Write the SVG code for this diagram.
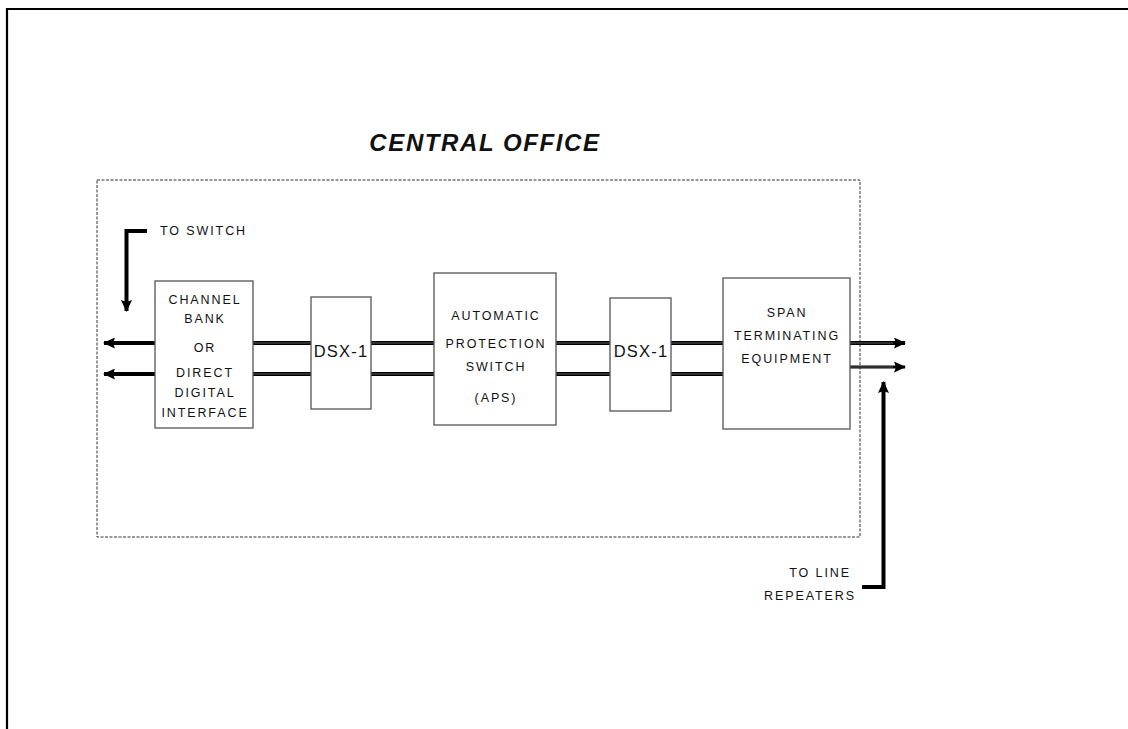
<svg xmlns="http://www.w3.org/2000/svg" width="1128" height="729" viewBox="0 0 1128 729">
<defs>
<style>
.box{fill:#fff;stroke:#555;stroke-width:1.3}
.t{font-family:"Liberation Sans",Arial,sans-serif;font-size:12.5px;letter-spacing:1.9px;fill:#111;text-anchor:middle}
.dsx{font-family:"Liberation Sans",Arial,sans-serif;font-size:16.5px;letter-spacing:1.2px;fill:#111;text-anchor:middle}
.dbl{stroke:#000;stroke-width:4;fill:none}
.dblc{stroke:#777;stroke-width:0.8;fill:none}
.thick{stroke:#000;stroke-width:4;fill:none}
</style>
<marker id="ah" viewBox="0 0 12 11" refX="11" refY="5.5" markerWidth="13" markerHeight="11" orient="auto" markerUnits="userSpaceOnUse">
<path d="M0,0 L12,5.5 L0,11 L2,5.5 Z" fill="#000"/>
</marker>
</defs>
<rect width="1128" height="729" fill="#fff"/>
<path d="M7,729 V9 H1128" fill="none" stroke="#000" stroke-width="2.2"/>
<rect x="97" y="180" width="763" height="357" fill="none" stroke="#333" stroke-width="1" stroke-dasharray="3,1.5"/>
<text x="485" y="151" font-family="Liberation Sans,Arial,sans-serif" font-size="24" font-weight="bold" font-style="italic" letter-spacing="1.6" text-anchor="middle" fill="#111">CENTRAL OFFICE</text>
<g id="connectors">
<path class="dbl" d="M253,343 H311 M253,374 H311 M371,343 H434 M371,374 H434 M556,343 H610 M556,374 H610 M671,343 H723 M671,374 H723"/>
<path class="dblc" d="M253,343 H311 M253,374 H311 M371,343 H434 M371,374 H434 M556,343 H610 M556,374 H610 M671,343 H723 M671,374 H723"/>
<path class="thick" d="M155,343 H104" marker-end="url(#ah)"/>
<path class="thick" d="M155,374 H104" marker-end="url(#ah)"/>
<path class="thick" d="M147,231 H126.5 V311" marker-end="url(#ah)"/>
<path class="thick" d="M862,587 H883.5 V382" marker-end="url(#ah)"/>
<path class="thick" d="M850,343 H905" marker-end="url(#ah)"/>
<path stroke="#000" stroke-width="3" fill="none" d="M850,367 H905" marker-end="url(#ah)"/>
<path class="dblc" d="M850,343 H893 M850,367 H893"/>
</g>
<g id="channel-bank">
<rect class="box" x="155" y="281" width="98" height="147"/>
<text class="t" x="205" y="304">CHANNEL</text>
<text class="t" x="205" y="323">BANK</text>
<text class="t" x="205" y="352">OR</text>
<text class="t" x="205" y="377">DIRECT</text>
<text class="t" x="205" y="397">DIGITAL</text>
<text class="t" x="205" y="417">INTERFACE</text>
</g>
<g id="dsx1-a">
<rect class="box" x="311" y="297" width="60" height="112"/>
<text class="dsx" x="341" y="357">DSX-1</text>
</g>
<g id="aps">
<rect class="box" x="434" y="273" width="122" height="152"/>
<text class="t" x="496" y="320">AUTOMATIC</text>
<text class="t" x="496" y="348">PROTECTION</text>
<text class="t" x="496" y="371">SWITCH</text>
<text class="t" x="496" y="402">(APS)</text>
</g>
<g id="dsx1-b">
<rect class="box" x="610" y="298" width="61" height="113"/>
<text class="dsx" x="641" y="357">DSX-1</text>
</g>
<g id="span">
<rect class="box" x="723" y="278" width="127" height="151"/>
<text class="t" x="787" y="317">SPAN</text>
<text class="t" x="787" y="340">TERMINATING</text>
<text class="t" x="787" y="363">EQUIPMENT</text>
</g>
<g id="labels">
<text class="t" x="160" y="235" style="text-anchor:start">TO SWITCH</text>
<text class="t" x="851" y="577" style="text-anchor:end">TO LINE</text>
<text class="t" x="856" y="600" style="text-anchor:end">REPEATERS</text>
</g>
</svg>
